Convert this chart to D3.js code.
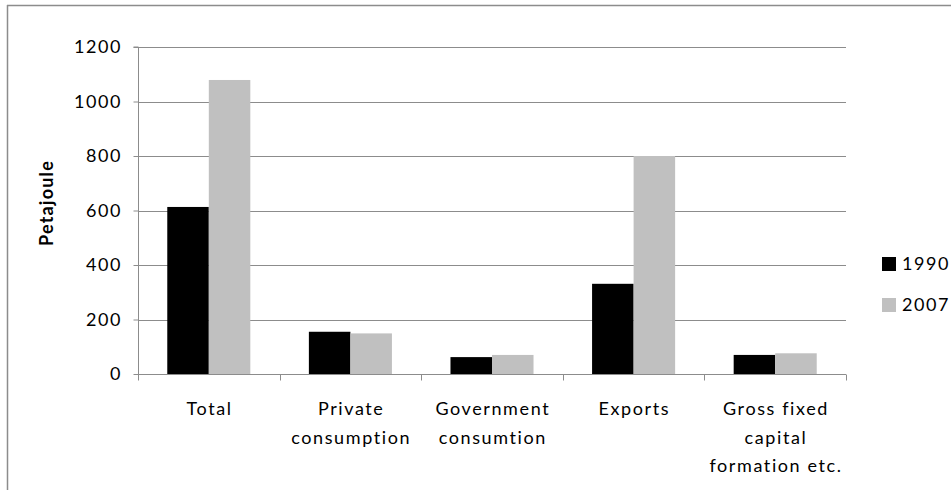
<!DOCTYPE html>
<html><head><meta charset="utf-8">
<script src="https://cdn.jsdelivr.net/npm/d3@7"></script>
<style>
html,body{margin:0;padding:0;background:#fff;}
svg{display:block;}
text{font-family:Lato,"Open Sans",sans-serif;fill:#000;}
</style></head>
<body>
<svg id="chart" width="951" height="490"></svg>
<script>
const categories = ["Total", "Private consumption", "Government consumtion", "Exports", "Gross fixed capital formation etc."];
const categoryLines = [["Total"], ["Private", "consumption"], ["Government", "consumtion"], ["Exports"], ["Gross fixed", "capital", "formation etc."]];
const seriesNames = ["1990", "2007"];
const values1990 = [613, 155, 62, 331, 70];
const values2007 = [1079, 149, 70, 800, 76];
const yTicks = [0, 200, 400, 600, 800, 1000, 1200];
const yLabel = "Petajoule";
const colors = ["#000000", "#c0c0c0"];

const svg = d3.select("#chart");
const plot = {left: 138, right: 846, top: 47, bottom: 374};
const FS = 18, LS = 1.6;

// frame (top + left visible)
svg.append("line").attr("x1", 7).attr("x2", 951).attr("y1", 5.5).attr("y2", 5.5).attr("stroke", "#8c8c8c").attr("stroke-width", 1.5);
svg.append("line").attr("x1", 7.5).attr("x2", 7.5).attr("y1", 5).attr("y2", 490).attr("stroke", "#8c8c8c").attr("stroke-width", 1.5);

const x = d3.scaleBand().domain(categories).range([plot.left, plot.right]).paddingInner(0).paddingOuter(0);
const x1 = d3.scaleBand().domain(seriesNames).range([0, x.bandwidth()]).paddingOuter(0.705).paddingInner(0);
const y = d3.scaleLinear().domain([0, 1200]).range([plot.bottom, plot.top]);

// gridlines
svg.append("g").selectAll("line").data(yTicks.filter(d => d > 0)).join("line")
  .attr("x1", plot.left).attr("x2", plot.right)
  .attr("y1", d => Math.round(y(d)) + 0.5).attr("y2", d => Math.round(y(d)) + 0.5)
  .attr("stroke", "#8c8c8c").attr("stroke-width", 1);

// bars
const series = [values1990, values2007];
const g = svg.append("g");
series.forEach((vals, si) => {
  g.selectAll(null).data(categories).join("rect")
    .attr("x", (c) => x(c) + x1(seriesNames[si]))
    .attr("width", x1.bandwidth())
    .attr("y", (c, i) => y(vals[i]))
    .attr("height", (c, i) => y(0) - y(vals[i]))
    .attr("fill", colors[si]);
});

// y axis
const yAxis = d3.axisLeft(y).tickValues(yTicks).tickSize(5).tickPadding(8).tickFormat(d3.format("d"));
const ya = svg.append("g").attr("transform", `translate(${plot.left + 0.5},0)`).call(yAxis);
ya.select(".domain").attr("stroke", "#8c8c8c").attr("d", `M-5,${plot.top}H0V${plot.bottom}`);
ya.selectAll(".tick line").attr("stroke", "#8c8c8c");
ya.selectAll(".tick text").attr("font-size", FS).attr("font-family", "Lato, sans-serif").attr("fill", "#000")
  .attr("letter-spacing", LS + "px").attr("x", -18 + LS);

// x axis
const xAxis = d3.axisBottom(x).tickSize(0).tickFormat("");
const xa = svg.append("g").attr("transform", `translate(0,${Math.round(plot.bottom) + 0.5})`).call(xAxis);
xa.select(".domain").attr("stroke", "#8c8c8c").attr("d", `M${plot.left},0H${plot.right}`);
// boundary ticks
const bounds = categories.map(c => x(c)).concat([plot.right]);
xa.selectAll(".bt").data(bounds).join("line").attr("class", "bt")
  .attr("x1", d => Math.round(d) + 0.5).attr("x2", d => Math.round(d) + 0.5)
  .attr("y1", 0).attr("y2", 6).attr("stroke", "#8c8c8c");

// category labels
categories.forEach((c, i) => {
  const cx = x(c) + x.bandwidth() / 2 + LS / 2;
  const t = svg.append("text").attr("text-anchor", "middle").attr("font-size", FS).attr("letter-spacing", LS + "px");
  categoryLines[i].forEach((ln, k) => {
    t.append("tspan").attr("x", cx).attr("y", 415 + k * 28.5).text(ln);
  });
});

// y label
svg.append("text").attr("transform", `translate(53,203) rotate(-90)`)
  .attr("text-anchor", "middle").attr("font-size", 18).attr("letter-spacing", "1.2px").attr("font-weight", "bold").text(yLabel);

// legend
const legend = svg.append("g");
seriesNames.forEach((s, i) => {
  const ly = 257 + i * 41;
  legend.append("rect").attr("x", 882).attr("y", ly).attr("width", 14).attr("height", 14).attr("fill", colors[i]);
  legend.append("text").attr("x", 902).attr("y", ly + 13).attr("font-size", FS).attr("letter-spacing", LS + "px").text(s);
});
</script>
</body></html>
